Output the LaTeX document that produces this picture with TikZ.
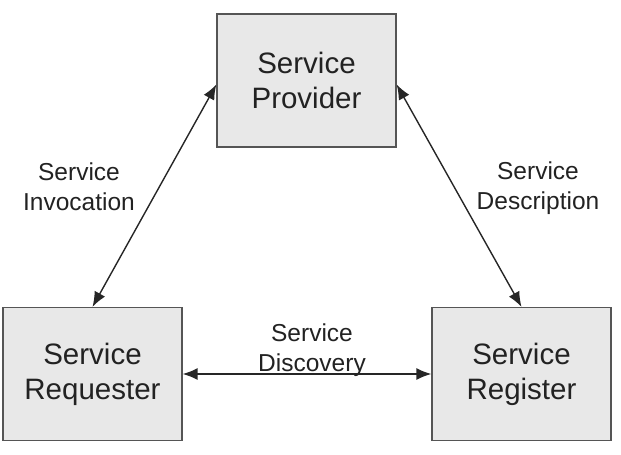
\documentclass[tikz,border=0pt]{standalone}
\usepackage{fontspec}
\setmainfont{Liberation Sans}
\usetikzlibrary{arrows.meta,calc}
\definecolor{boxfill}{HTML}{E8E8E8}
\definecolor{boxline}{HTML}{555555}
\definecolor{txt}{HTML}{222222}
\begin{document}
\begin{tikzpicture}[x=1pt,y=-1pt,
  svcbox/.style={draw=boxline,line width=1.3pt,fill=boxfill,minimum width=179pt,minimum height=133pt,inner sep=0pt,align=center,text=txt,font=\fontsize{29.5}{35}\selectfont},
  lbl/.style={align=center,text=txt,inner sep=0pt,font=\fontsize{24.5}{30}\selectfont},
  conn/.style={draw=black!85,line width=1.4pt,{Latex[length=15pt,width=12pt]}-{Latex[length=15pt,width=12pt]}}]
\useasboundingbox (0,0) rectangle (621,455);
\node[svcbox] (prov) at (306.5,80.5) {Service\\Provider};
\node[svcbox] (req) at (92.5,374) {Service\\Requester};
\node[svcbox] (reg) at (521.5,374) {Service\\Register};
\node[lbl] (linv) at (79,187) {Service\\Invocation};
\node[lbl] (ldesc) at (538,188) {Service\\Description};
\node[lbl] (ldisc) at (312,350) {Service\\Discovery};
\coordinate (pl) at ($(prov.west)+(0,4)$);
\coordinate (pr) at ($(prov.east)+(0,4)$);
\draw[conn] (pl) -- (req.north);
\draw[conn] (pr) -- (reg.north);
\draw[conn] (req.east) -- (reg.west);
\end{tikzpicture}
\end{document}
